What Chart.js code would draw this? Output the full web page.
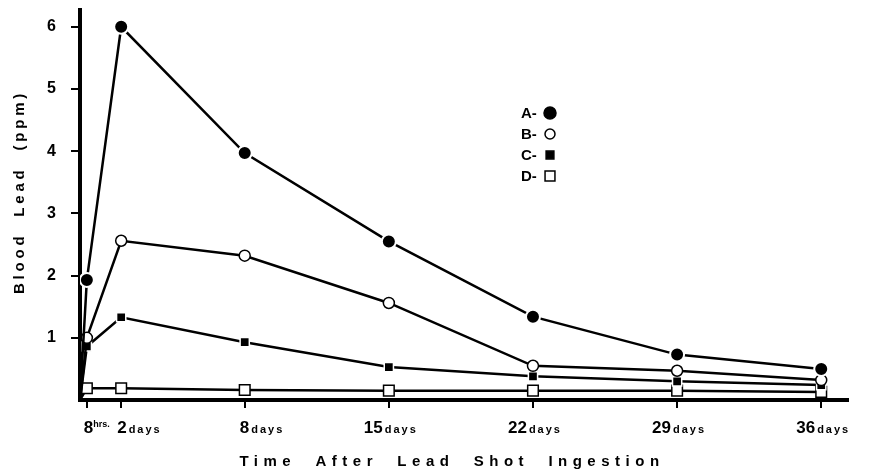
<!DOCTYPE html>
<html>
<head>
<meta charset="utf-8">
<script src="https://cdn.jsdelivr.net/npm/chart.js@4.4.0/dist/chart.umd.min.js"></script>
<style>
  html, body { margin: 0; padding: 0; background: #fff; }
  #wrap { width: 870px; height: 470px; }
</style>
</head>
<body>
<div id="wrap"><canvas id="lead-chart"></canvas></div>
<script>
// days after ingestion (8 hrs = 1/3 day), every group starts at 0
const days = [0, 1 / 3, 2, 8, 15, 22, 29, 36];
const groupA = [0, 1.93, 6.0, 3.97, 2.55, 1.34, 0.73, 0.5];
const groupB = [0, 1.0, 2.56, 2.32, 1.56, 0.55, 0.47, 0.32];
const groupC = [0, 0.86, 1.33, 0.93, 0.53, 0.38, 0.3, 0.24];
const groupD = [0, 0.19, 0.19, 0.16, 0.15, 0.15, 0.15, 0.13];

const xTickValues = [1 / 3, 2, 8, 15, 22, 29, 36];
const xTickNumbers = ['8', '2', '8', '15', '22', '29', '36'];
const xTickUnits = ['hrs.', 'days', 'days', 'days', 'days', 'days', 'days'];
const yTickValues = [1, 2, 3, 4, 5, 6];

const legendNames = ['A', 'B', 'C', 'D'];

const FONT = '"Liberation Sans", Arial, sans-serif';

function toPoints(values) {
  return values.map((v, i) => ({ x: days[i], y: v }));
}

// no marker on the starting point at day 0
const hideFirst = (r) => (ctx) => (ctx.dataIndex === 0 ? 0 : r);

const datasets = [
  {
    label: 'A', data: toPoints(groupA),
    pointStyle: 'circle', pointRadius: hideFirst(7),
    pointBackgroundColor: '#000', pointBorderColor: '#fff', pointBorderWidth: 2,
  },
  {
    label: 'B', data: toPoints(groupB),
    pointStyle: 'circle', pointRadius: hideFirst(5.5),
    pointBackgroundColor: '#fff', pointBorderColor: '#000', pointBorderWidth: 1.5,
  },
  {
    label: 'C', data: toPoints(groupC),
    pointStyle: 'rect', pointRadius: hideFirst(6.5),
    pointBackgroundColor: '#000', pointBorderColor: '#fff', pointBorderWidth: 1.5,
  },
  {
    label: 'D', data: toPoints(groupD),
    pointStyle: 'rect', pointRadius: hideFirst(7.5),
    pointBackgroundColor: '#fff', pointBorderColor: '#000', pointBorderWidth: 1.5,
  },
].map((ds) => Object.assign(ds, {
  borderColor: '#000',
  borderWidth: 2.5,
  tension: 0,
  fill: false,
}));

// tick labels, axis titles and the small key
const paperText = {
  id: 'paperText',
  afterDraw(chart) {
    const ctx = chart.ctx;
    const xs = chart.scales.x;
    // where each hand-lettered label starts, relative to its tick
    const starts = [-3, -4, -5, -25, -25, -25, -25];

    ctx.save();
    ctx.fillStyle = '#000';
    ctx.textBaseline = 'alphabetic';
    ctx.textAlign = 'left';

    xTickValues.forEach((v, i) => {
      const px = xs.getPixelForValue(v);
      const start = px + starts[i];
      ctx.font = 'bold 17px ' + FONT;
      ctx.letterSpacing = '0px';
      const nW = ctx.measureText(xTickNumbers[i]).width;
      ctx.fillText(xTickNumbers[i], start, 433);
      if (i === 0) {
        ctx.font = 'bold 9px ' + FONT;
        ctx.letterSpacing = '0px';
        ctx.fillText(xTickUnits[i], start + nW, 427);
      } else {
        ctx.font = 'bold 11px ' + FONT;
        ctx.letterSpacing = '2px';
        ctx.fillText(xTickUnits[i], start + nW + 2, 433);
      }
    });

    // axis titles
    ctx.font = 'bold 15px ' + FONT;
    ctx.letterSpacing = '5.5px';
    ctx.textAlign = 'center';
    ctx.textBaseline = 'middle';
    ctx.fillText('Time  After  Lead  Shot  Ingestion', 452, 462);

    ctx.save();
    ctx.translate(20, 192);
    ctx.rotate(-Math.PI / 2);
    ctx.letterSpacing = '3.8px';
    ctx.fillText('Blood  Lead  (ppm)', 0, 0);
    ctx.restore();

    // key
    ctx.textAlign = 'left';
    ctx.letterSpacing = '0px';
    ctx.font = 'bold 15px ' + FONT;
    const keyY = [113, 134, 155, 176];
    legendNames.forEach((name, i) => {
      ctx.fillStyle = '#000';
      ctx.fillText(name + '-', 521, keyY[i] + 1);
      const ds = datasets[i];
      const opts = {
        pointStyle: ds.pointStyle,
        radius: i === 0 ? 6 : (i === 1 ? 5 : (i === 2 ? 5.5 : 7)),
        rotation: 0,
        borderWidth: 1.5,
      };
      ctx.fillStyle = ds.pointBackgroundColor;
      ctx.strokeStyle = '#000';
      ctx.lineWidth = 1.5;
      Chart.helpers.drawPoint(ctx, opts, 550, keyY[i]);
    });
    ctx.restore();
  },
};

const noPad = (s) => {
  s.paddingTop = 0;
  s.paddingBottom = 0;
  s.paddingLeft = 0;
  s.paddingRight = 0;
};

new Chart(document.getElementById('lead-chart'), {
  type: 'line',
  data: { datasets },
  options: {
    responsive: true,
    maintainAspectRatio: false,
    animation: false,
    layout: { padding: { top: 10, right: 22, left: 0, bottom: 0 } },
    plugins: {
      legend: { display: false },
      tooltip: { enabled: false },
    },
    scales: {
      x: {
        type: 'linear',
        min: 0,
        max: 37.3,
        afterBuildTicks: (s) => { s.ticks = xTickValues.map((v) => ({ value: v })); },
        afterFit: (s) => { s.height = 70; noPad(s); },
        grid: { drawOnChartArea: false, drawTicks: true, tickLength: 8, lineWidth: 2, color: '#000' },
        border: { display: true, width: 4, color: '#000' },
        ticks: { callback: () => '' },
      },
      y: {
        min: 0,
        max: 6.27,
        afterBuildTicks: (s) => { s.ticks = yTickValues.map((v) => ({ value: v })); },
        afterFit: (s) => { s.width = 80; noPad(s); },
        grid: { drawOnChartArea: false, drawTicks: true, tickLength: 9, lineWidth: 2, color: '#000' },
        border: { display: true, width: 4, color: '#000' },
        ticks: {
          color: '#000',
          padding: 15,
          font: { family: FONT, size: 16, weight: 'bold' },
        },
      },
    },
  },
  plugins: [paperText],
});
</script>
</body>
</html>
